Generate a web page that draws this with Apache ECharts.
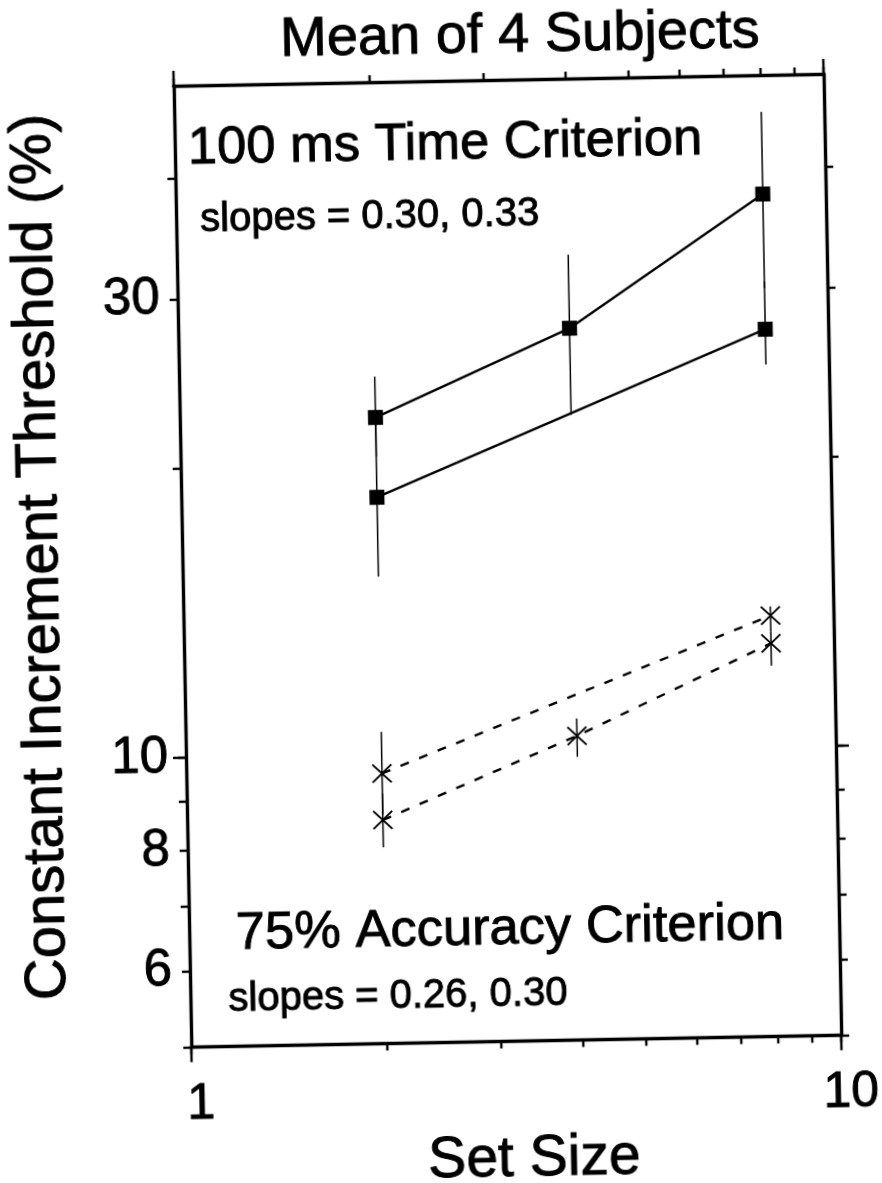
<!DOCTYPE html>
<html>
<head>
<meta charset="utf-8">
<title>Mean of 4 Subjects</title>
<style>
  html, body { margin: 0; padding: 0; background: #fff; overflow: hidden; }
  #chart { width: 882px; height: 1183px; transform: rotate(-1.05deg); transform-origin: 50% 50%; }
</style>
<script src="https://cdn.jsdelivr.net/npm/echarts@6/dist/echarts.min.js"></script>
</head>
<body>
<div id="chart"></div>
<script>
// Set sizes (log x axis)
const setSizes = [2, 4, 8];

// 100 ms time criterion: upper curve (three set sizes) and lower curve (two set sizes)
const timeUpper = [22.4, 27.5, 37.6];
const timeUpperLow = [20.4, 22.35, 30.0];
const timeUpperHigh = [24.7, 32.8, 45.8];
const timeLowerSizes = [2, 8];
const timeLower = [18.5, 27.2];
const timeLowerLow = [15.3, 25.0];
const timeLowerHigh = [22.3, 30.5];

// 75% accuracy criterion: upper curve (two set sizes) and lower curve (three set sizes)
const accUpperSizes = [2, 8];
const accUpper = [9.55, 13.7];
const accUpperLow = [8.65, 13.2];
const accUpperHigh = [10.55, 14.0];
const accLower = [8.54, 10.36, 12.82];
const accLowerLow = [8.0, 9.85, 12.15];
const accLowerHigh = [9.1, 10.8, 13.2];

// Tick marks and labels
const xTicks = [1, 2, 3, 4, 5, 6, 7, 8, 9, 10];
const xMajor = [1, 10];
const xLabels = [1, 10];
const yTicks = [5, 6, 7, 8, 9, 10, 20, 30, 40];
const yMajor = [10];
const yLabels = [6, 8, 10, 30];

const FONT = '"Liberation Sans", Arial, Helvetica, sans-serif';
const INK = '#000';
const HEAVY = { textBorderColor: INK, textBorderWidth: 0.9 };

function pts(xs, ys) { return xs.map((x, i) => [x, ys[i]]); }
function bars(xs, lo, hi) { return xs.map((x, i) => [x, lo[i], hi[i]]); }

const axisLineStyle = { color: INK, width: 3.4 };
const tickStyle = { color: INK, width: 2.4 };
const noGrid = { splitLine: { show: false }, minorTick: { show: false }, minorSplitLine: { show: false } };

const xBase = Object.assign({ type: 'log', logBase: 10, min: 1, max: 10 }, noGrid);
const yBase = Object.assign({ type: 'log', logBase: 10, min: 5, max: 50 }, noGrid);

const xAxes = [
  Object.assign({}, xBase, {
    position: 'bottom',
    axisLine: { show: true, lineStyle: axisLineStyle },
    axisTick: { show: true, inside: false, length: 7, customValues: xTicks, lineStyle: tickStyle },
    axisLabel: Object.assign({ show: true, customValues: xLabels, margin: 33, fontSize: 50, fontFamily: FONT, color: INK, padding: [0, 0, 0, 18] }, HEAVY),
    name: 'Set Size', nameLocation: 'middle', nameGap: 90,
    nameTextStyle: Object.assign({ fontSize: 57, fontFamily: FONT, color: INK, padding: [0, 0, 0, 32] }, HEAVY)
  }),
  Object.assign({}, xBase, {
    position: 'bottom', axisLine: { show: false }, axisLabel: { show: false },
    axisTick: { show: true, inside: false, length: 15, customValues: xMajor, lineStyle: tickStyle }
  }),
  Object.assign({}, xBase, {
    position: 'top', axisLine: { show: true, lineStyle: axisLineStyle }, axisLabel: { show: false },
    axisTick: { show: true, inside: false, length: 7, customValues: xTicks, lineStyle: tickStyle }
  }),
  Object.assign({}, xBase, {
    position: 'top', axisLine: { show: false }, axisLabel: { show: false },
    axisTick: { show: true, inside: false, length: 15, customValues: xMajor, lineStyle: tickStyle }
  })
];

const yAxes = [
  Object.assign({}, yBase, {
    position: 'left',
    axisLine: { show: true, lineStyle: axisLineStyle },
    axisTick: { show: true, inside: false, length: 8, customValues: yTicks, lineStyle: tickStyle },
    axisLabel: Object.assign({ show: true, customValues: yLabels, margin: 18, fontSize: 51, fontFamily: FONT, color: INK }, HEAVY),
    name: 'Constant Increment Threshold (%)', nameLocation: 'middle', nameRotate: 90, nameGap: 112,
    nameTextStyle: Object.assign({ fontSize: 58, fontFamily: FONT, color: INK, padding: [0, 0, 0, 24] }, HEAVY)
  }),
  Object.assign({}, yBase, {
    position: 'left', axisLine: { show: false }, axisLabel: { show: false },
    axisTick: { show: true, inside: false, length: 13, customValues: yMajor, lineStyle: tickStyle }
  }),
  Object.assign({}, yBase, {
    position: 'right', axisLine: { show: true, lineStyle: axisLineStyle }, axisLabel: { show: false },
    axisTick: { show: true, inside: false, length: 8, customValues: yTicks, lineStyle: tickStyle }
  }),
  Object.assign({}, yBase, {
    position: 'right', axisLine: { show: false }, axisLabel: { show: false },
    axisTick: { show: true, inside: false, length: 13, customValues: yMajor, lineStyle: tickStyle }
  })
];

// Vertical error bars drawn through the axes' own coordinate mapping
function errorBarSeries(data) {
  return {
    type: 'custom',
    silent: true,
    z: 1,
    data: data,
    encode: { x: 0, y: [1, 2] },
    renderItem: function (params, api) {
      const x = api.value(0);
      const p1 = api.coord([x, api.value(1)]);
      const p2 = api.coord([x, api.value(2)]);
      return {
        type: 'line',
        shape: { x1: p1[0], y1: p1[1], x2: p2[0], y2: p2[1] },
        style: { stroke: INK, lineWidth: 1.5 }
      };
    }
  };
}

const crossSymbol = 'path://M0,0L20,18M20,0L0,18';

function timeSeries(name, xs, ys) {
  return {
    name: name, type: 'line', data: pts(xs, ys), z: 3,
    symbol: 'rect', symbolSize: 15, showSymbol: true,
    lineStyle: { color: INK, width: 2.4 },
    itemStyle: { color: INK },
    emphasis: { disabled: true }, animation: false
  };
}
function accSeries(name, xs, ys) {
  return {
    name: name, type: 'line', data: pts(xs, ys), z: 3,
    symbol: crossSymbol, symbolSize: [19, 18], showSymbol: true,
    lineStyle: { color: INK, width: 2.4, type: [9, 11] },
    itemStyle: { color: 'rgba(0,0,0,0)', borderColor: INK, borderWidth: 1.9 },
    emphasis: { disabled: true }, animation: false
  };
}

function txt(text, x, y, size, align) {
  return {
    type: 'text', silent: true,
    style: {
      text: text, x: x, y: y, fill: INK,
      font: size + 'px ' + FONT,
      stroke: INK, lineWidth: 0.9,
      align: align, textAlign: align,
      verticalAlign: 'middle', textVerticalAlign: 'middle'
    }
  };
}

const chart = echarts.init(document.getElementById('chart'), null, { renderer: 'canvas' });
chart.setOption({
  animation: false,
  backgroundColor: '#fff',
  grid: { left: 183, right: 49, top: 81, bottom: 140.5, containLabel: false, outerBoundsMode: 'none' },
  xAxis: xAxes,
  yAxis: yAxes,
  graphic: [
    txt('Mean of 4 Subjects', 530, 37.6, 56, 'center'),
    txt('100 ms Time Criterion', 196, 144.5, 52.5, 'left'),
    txt('slopes = 0.30, 0.33', 207, 215.7, 40, 'left'),
    txt('75% Accuracy Criterion', 229.5, 930.6, 52.5, 'left'),
    txt('slopes = 0.26, 0.30', 221, 996, 40, 'left')
  ],
  series: [
    errorBarSeries(bars(setSizes, timeUpperLow, timeUpperHigh)),
    errorBarSeries(bars(timeLowerSizes, timeLowerLow, timeLowerHigh)),
    errorBarSeries(bars(accUpperSizes, accUpperLow, accUpperHigh)),
    errorBarSeries(bars(setSizes, accLowerLow, accLowerHigh)),
    timeSeries('Time criterion A', setSizes, timeUpper),
    timeSeries('Time criterion B', timeLowerSizes, timeLower),
    accSeries('Accuracy criterion A', accUpperSizes, accUpper),
    accSeries('Accuracy criterion B', setSizes, accLower)
  ]
});
</script>
</body>
</html>
